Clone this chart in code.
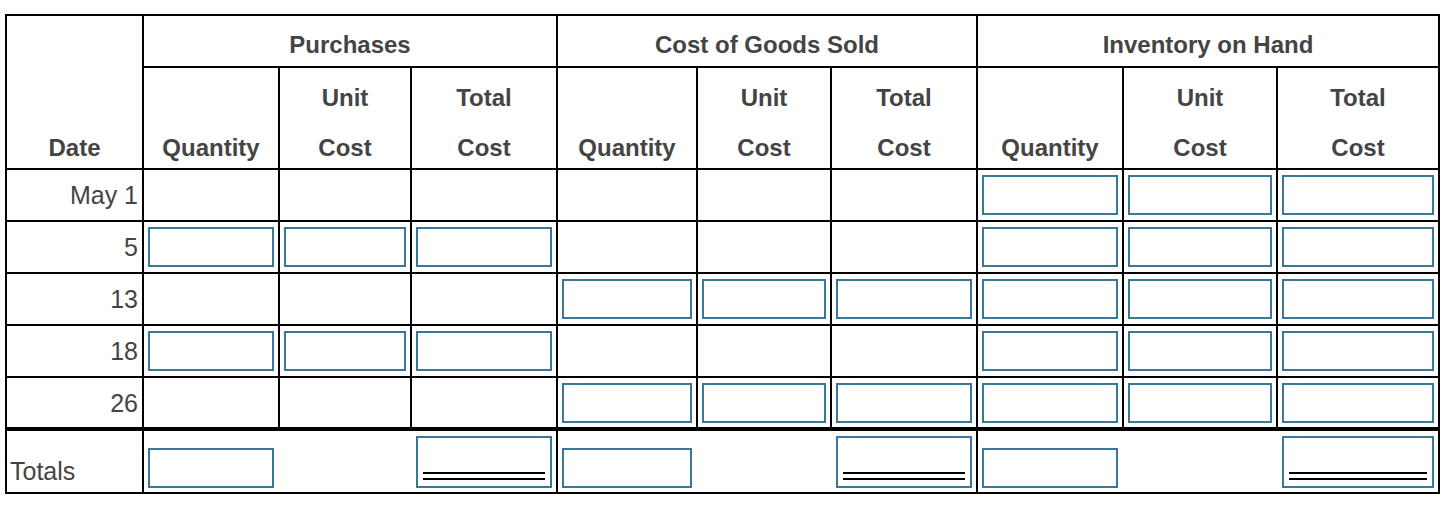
<!DOCTYPE html>
<html>
<head>
<meta charset="utf-8">
<script src="https://cdn.jsdelivr.net/npm/d3@7"></script>
<style>
  body { margin: 0; background: #fff; }
  svg text { font-family: "Liberation Sans", Arial, sans-serif; }
</style>
</head>
<body>
<div id="chart"></div>
<script>
// Table content
const groups = ["Purchases", "Cost of Goods Sold", "Inventory on Hand"];
const subHeads = [["", "Quantity"], ["Unit", "Cost"], ["Total", "Cost"]];
const dates = ["May 1", "5", "13", "18", "26"];
// which groups have input boxes on each date row (0 purchases, 1 cogs, 2 inventory)
const inputGroups = [[2], [0, 2], [1, 2], [0, 2], [1, 2]];
// totals row: [group, subcolumn, doubleUnderline]
const totalsBoxes = [[0, 0, false], [0, 2, true], [1, 0, false], [1, 2, true], [2, 0, false], [2, 2, true]];

// Column / row edges (pixels)
const colEdges = [6, 143, 279, 411, 557, 697, 831, 977, 1123, 1277, 1439];
const rowEdges = [15, 67, 169, 221, 273, 325, 377, 429, 493];

const width = 1448, height = 512;
const blue = "#3b7897";
const textCol = "#444";

const svg = d3.create("svg").attr("width", width).attr("height", height);
document.getElementById("chart").appendChild(svg.node());

const x = i => colEdges[i];
const y = i => rowEdges[i];
const line = (x1, y1, x2, y2, w = 2) =>
  svg.append("line").attr("x1", x1).attr("y1", y1).attr("x2", x2).attr("y2", y2)
    .attr("stroke", "#000").attr("stroke-width", w);

// outer border
svg.append("rect").attr("x", x(0)).attr("y", y(0))
  .attr("width", x(10) - x(0)).attr("height", y(8) - y(0))
  .attr("fill", "none").attr("stroke", "#000").attr("stroke-width", 2);
line(x(1), y(1), x(10), y(1));
for (let r = 2; r <= 6; r++) line(x(0), y(r), x(10), y(r));
line(x(0), y(7), x(10), y(7), 4);
[1, 4, 7].forEach(c => line(x(c), y(0), x(c), y(8)));
[2, 3, 5, 6, 8, 9].forEach(c => line(x(c), y(1), x(c), y(7)));

// Header text
const hdr = (tx, ty, s) => svg.append("text").attr("x", tx).attr("y", ty)
  .attr("text-anchor", "middle").attr("font-size", 24).attr("font-weight", "bold")
  .attr("fill", textCol).text(s);

groups.forEach((g, gi) => hdr((x(1 + gi * 3) + x(4 + gi * 3)) / 2, 53, g));
hdr((x(0) + x(1)) / 2, 156, "Date");
groups.forEach((g, gi) => subHeads.forEach((sh, si) => {
  const c = 1 + gi * 3 + si;
  const cx = (x(c) + x(c + 1)) / 2;
  if (sh[0]) hdr(cx, 106, sh[0]);
  hdr(cx, 156, sh[1]);
}));

// Date labels
dates.forEach((d, i) => svg.append("text")
  .attr("x", x(1) - 5).attr("y", (y(2 + i) + y(3 + i)) / 2 + 9)
  .attr("text-anchor", "end").attr("font-size", 25).attr("fill", textCol).text(d));
svg.append("text").attr("x", x(0) + 4).attr("y", 480)
  .attr("font-size", 25).attr("fill", textCol).text("Totals");

// Input boxes
const box = (c, y1, y2) => svg.append("rect")
  .attr("x", x(c) + 6).attr("y", y1)
  .attr("width", x(c + 1) - x(c) - 12).attr("height", y2 - y1)
  .attr("fill", "none").attr("stroke", blue).attr("stroke-width", 2);

inputGroups.forEach((gs, r) => gs.forEach(g => {
  for (let s = 0; s < 3; s++) box(1 + g * 3 + s, y(2 + r) + 7, y(3 + r) - 7);
}));

totalsBoxes.forEach(([g, s, dbl]) => {
  const c = 1 + g * 3 + s;
  if (dbl) {
    box(c, y(7) + 8, y(8) - 6);
    line(x(c) + 12, 473, x(c + 1) - 12, 473, 2);
    line(x(c) + 12, 479, x(c + 1) - 12, 479, 2);
  } else {
    box(c, y(7) + 20, y(8) - 6);
  }
});
</script>
</body>
</html>
